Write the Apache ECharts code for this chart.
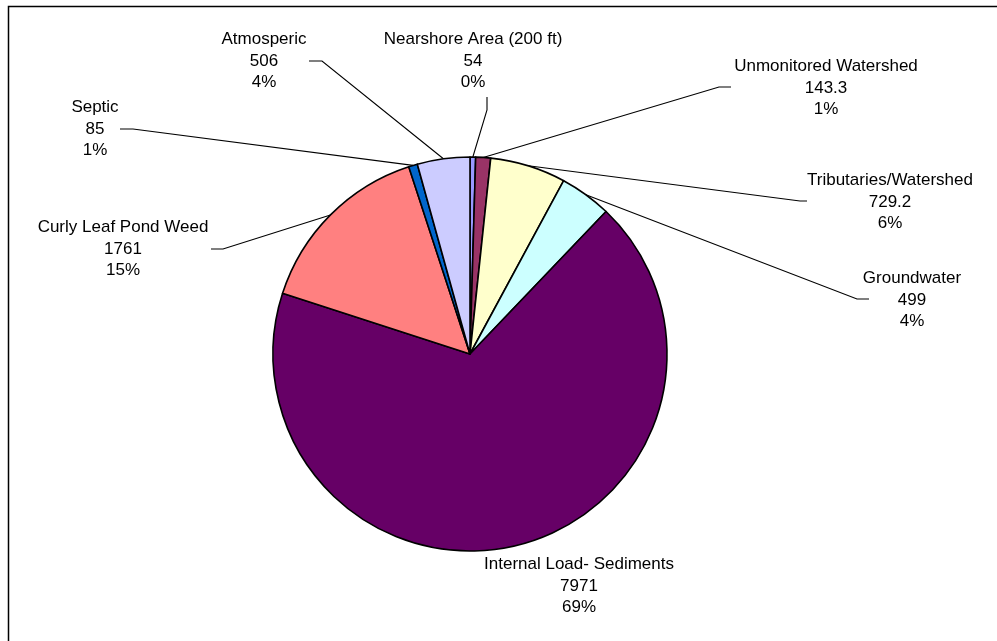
<!DOCTYPE html>
<html>
<head>
<meta charset="utf-8">
<title>Phosphorus Load Sources</title>
<script src="https://cdn.jsdelivr.net/npm/echarts@6/dist/echarts.min.js"></script>
<style>
  html, body { margin: 0; padding: 0; background: #fff; }
  #chart { width: 997px; height: 641px; }
</style>
</head>
<body>
<div id="chart"></div>
<script>
// Load sources, clockwise from 12 o'clock
const sources = [
  'Nearshore Area (200 ft)',
  'Unmonitored Watershed',
  'Tributaries/Watershed',
  'Groundwater',
  'Internal Load- Sediments',
  'Curly Leaf Pond Weed',
  'Septic',
  'Atmosperic'
];
const loads = [54, 143.3, 729.2, 499, 7971, 1761, 85, 506];
const percentLabels = ['0%', '1%', '6%', '4%', '69%', '15%', '1%', '4%'];
const valueLabels = ['54', '143.3', '729.2', '499', '7971', '1761', '85', '506'];

// Slice fills
const sliceColors = ['#9999FF', '#993366', '#FFFFCC', '#CCFFFF', '#660066', '#FF8080', '#0066CC', '#CCCCFF'];

// Label block centre (x, y of middle line) and leader elbow / attach points
const labelPlacement = [
  { x: 473, y: 61, elbow: [487, 110], attach: [487, 97] },
  { x: 826, y: 88, elbow: [719, 87], attach: [731, 87] },
  { x: 890, y: 202, elbow: [800, 201], attach: [807, 201] },
  { x: 912, y: 300, elbow: [857, 299], attach: [869, 299] },
  { x: 579, y: 586, elbow: null, attach: null },
  { x: 123, y: 249, elbow: [223, 249], attach: [211, 249] },
  { x: 95, y: 129, elbow: [133, 129], attach: [120, 129] },
  { x: 264, y: 61, elbow: [322, 61], attach: [309, 61] }
];

const chart = echarts.init(document.getElementById('chart'), null, { renderer: 'canvas' });

const seriesData = sources.map((name, i) => ({
  name: name,
  value: loads[i],
  itemStyle: { color: sliceColors[i] },
  labelLine: { show: labelPlacement[i].elbow !== null }
}));

chart.setOption({
  animation: false,
  backgroundColor: '#ffffff',
  graphic: [{
    type: 'polyline',
    shape: { points: [[8.5, 641], [8.5, 6.5], [997, 6.5]] },
    style: { stroke: '#000', lineWidth: 1.5, fill: null },
    silent: true
  }],
  series: [{
    type: 'pie',
    center: [470, 354],
    radius: 197,
    startAngle: 90,
    clockwise: true,
    avoidLabelOverlap: false,
    emphasis: { disabled: true },
    itemStyle: { borderColor: '#000', borderWidth: 1.6 },
    label: {
      show: true,
      position: 'outside',
      color: '#000',
      fontFamily: 'Liberation Sans, Arial, sans-serif',
      fontSize: 17,
      lineHeight: 21.5,
      align: 'center',
      formatter: p => p.name + '\n' + valueLabels[p.dataIndex] + '\n' + percentLabels[p.dataIndex]
    },
    labelLine: {
      show: true,
      lineStyle: { color: '#000', width: 1.1 }
    },
    labelLayout: params => {
      const lp = labelPlacement[params.dataIndex];
      const out = { x: lp.x, y: lp.y, align: 'center', verticalAlign: 'middle' };
      if (lp.elbow && params.labelLinePoints) {
        out.labelLinePoints = [params.labelLinePoints[0], lp.elbow, lp.attach];
      }
      return out;
    },
    data: seriesData
  }]
});
</script>
</body>
</html>
